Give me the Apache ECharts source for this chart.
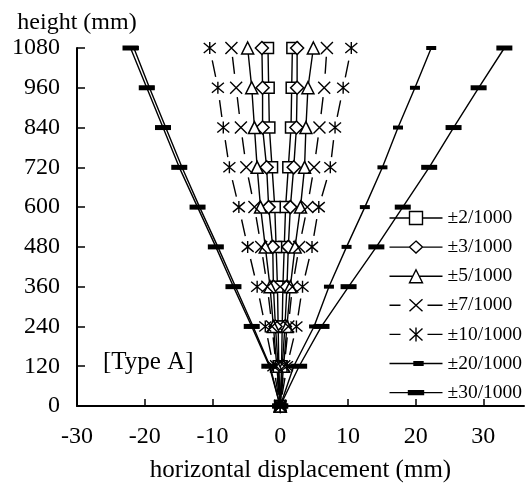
<!DOCTYPE html>
<html>
<head>
<meta charset="utf-8">
<script src="https://cdn.jsdelivr.net/npm/echarts@6/dist/echarts.min.js"></script>
<style>
html,body{margin:0;padding:0;background:#fff;}
#c{width:525px;height:497px;}
</style>
</head>
<body>
<div id="c"></div>
<script>
// ---- data ----
const heights = [0, 120, 240, 360, 480, 600, 720, 840, 960, 1080];
const seriesNames = ['±2/1000', '±3/1000', '±5/1000', '±7/1000', '±10/1000', '±20/1000', '±30/1000'];
const xTicks = [-30, -20, -10, 0, 10, 20, 30];

const d2pos  = [0, 0.2, 0.3, 0.4, 0.6, 0.8, 1.2, 1.6, 1.7, 1.8];
const d2neg  = [0, -0.2, -0.3, -0.4, -0.6, -0.8, -1.2, -1.6, -1.7, -1.8];
const d3pos  = [0, 0.3, 0.7, 1.0, 1.2, 1.5, 2.0, 2.4, 2.5, 2.5];
const d3neg  = [0, -0.3, -0.7, -1.0, -1.1, -1.7, -2.0, -2.6, -2.6, -2.7];
const d5pos  = [0, 0.5, 1.0, 1.5, 2.2, 3.0, 3.6, 3.8, 4.1, 4.9];
const d5neg  = [0, -0.5, -1.0, -1.5, -2.2, -2.9, -3.4, -3.8, -4.2, -4.8];
const d7pos  = [0, 0.6, 1.2, 1.8, 2.8, 4.0, 5.0, 5.8, 6.5, 6.9];
const d7neg  = [0, -0.6, -1.2, -1.9, -2.8, -3.8, -5.0, -5.8, -6.5, -7.2];
const d10pos = [0, 1.0, 2.4, 3.3, 4.7, 5.7, 7.4, 8.1, 9.3, 10.5];
const d10neg = [0, -1.0, -2.2, -3.4, -4.8, -6.1, -7.5, -8.4, -9.2, -10.4];
const d20pos = [0, 2.0, 5.0, 7.2, 9.8, 12.5, 15.1, 17.4, 19.9, 22.3];
const d20neg = [0, -1.5, -4.0, -6.6, -9.2, -11.9, -14.5, -16.9, -19.3, -21.6];
const d30pos = [0, 2.8, 6.1, 10.1, 14.2, 18.1, 22.0, 25.6, 29.3, 33.1];
const d30neg = [0, -1.6, -4.2, -6.9, -9.5, -12.2, -14.9, -17.3, -19.7, -22.1];

// ---- styles ----
const FONT = 'Liberation Serif';
const corners = 'M0,0L0,0M53,14L53,14';
const styles = [
  {pos: d2pos, neg: d2neg, symbol: 'rect', size: 11, fill: '#fff', bw: 1.5, dash: 'solid',
   icon: 'path://' + corners + 'M0,7L20,7M33,7L53,7M20,0.5L33,0.5L33,13.5L20,13.5Z'},
  {pos: d3pos, neg: d3neg, symbol: 'diamond', size: 13, fill: '#fff', bw: 1.5, dash: 'solid',
   icon: 'path://' + corners + 'M0,7L20,7M33,7L53,7M26.5,1L33,7L26.5,13L20,7Z'},
  {pos: d5pos, neg: d5neg, symbol: 'triangle', size: 12, fill: '#fff', bw: 1.5, dash: 'solid',
   icon: 'path://' + corners + 'M0,7L23.3,7M29.7,7L53,7M26.5,0.5L33,13.5L20,13.5Z'},
  {pos: d7pos, neg: d7neg, symbol: 'path://M0,0L10,10M10,0L0,10', size: 12, fill: 'none', bw: 1.4, dash: [17, 23.5],
   icon: 'path://' + corners + 'M0,7L11,7M38,7L53,7M20,1L33,13M33,1L20,13'},
  {pos: d10pos, neg: d10neg, symbol: 'path://M0,0L10,10M10,0L0,10M5,-1L5,11', size: 12, fill: 'none', bw: 1.4, dash: [17, 23.5],
   icon: 'path://' + corners + 'M0,7L11,7M38,7L53,7M20,1L33,13M33,1L20,13M26.5,0L26.5,14'},
  {pos: d20pos, neg: d20neg, symbol: 'rect', size: [10, 4], fill: '#000', bw: 0, dash: 'solid',
   icon: 'path://' + corners + 'M0,7L53,7M24.5,5.25L33.5,5.25L33.5,8.75L24.5,8.75Z'},
  {pos: d30pos, neg: d30neg, symbol: 'rect', size: [16, 5], fill: '#000', bw: 0, dash: 'solid',
   icon: 'path://' + corners + 'M0,7L53,7M19,5L34,5L34,9L19,9Z'}
];

const series = [];
seriesNames.forEach((name, k) => {
  const st = styles[k];
  [st.pos, st.neg].forEach(vals => {
    series.push({
      name: name,
      type: 'line',
      data: heights.map((h, i) => [vals[i], h]),
      symbol: st.symbol,
      symbolSize: st.size,
      showSymbol: true,
      showAllSymbol: true,
      clip: false,
      lineStyle: {color: '#000', width: 1.4, type: st.dash, dashOffset: 29},
      itemStyle: {color: st.fill, borderColor: '#000', borderWidth: st.bw},
      emphasis: {disabled: true},
      z: 2 + k
    });
  });
});

const legendData = seriesNames.map((name, k) => ({
  name: name,
  icon: styles[k].icon,
  itemStyle: {color: styles[k].fill, borderColor: '#000', borderWidth: 1.4}
}));

const chart = echarts.init(document.getElementById('c'), null, {renderer: 'canvas'});
chart.setOption({
  animation: false,
  backgroundColor: '#fff',
  grid: {left: 77, right: 1, top: 48, bottom: 91, containLabel: false, outerBoundsMode: 'none'},
  legend: {
    data: legendData,
    orient: 'vertical',
    left: 387,
    top: 208,
    itemWidth: 53,
    itemHeight: 14,
    itemGap: 9.1,
    padding: 0,
    selectedMode: false,
    textStyle: {fontFamily: FONT, fontSize: 19.5, color: '#000', padding: [0, 0, 0, 0]}
  },
  xAxis: {
    type: 'value',
    min: -30,
    max: 36,
    interval: 10,
    name: 'horizontal displacement (mm)',
    nameLocation: 'middle',
    nameGap: 52,
    nameTextStyle: {fontFamily: FONT, fontSize: 25, color: '#000'},
    axisLine: {show: true, onZero: false, lineStyle: {color: '#000', width: 2}},
    axisTick: {show: true, inside: true, length: 7, customValues: xTicks, lineStyle: {color: '#000', width: 1.5}},
    axisLabel: {fontFamily: FONT, fontSize: 24, color: '#000', margin: 19, customValues: xTicks,
      formatter: v => (v % 10 === 0 ? String(v) : '')},
    splitLine: {show: false}
  },
  yAxis: {
    type: 'value',
    min: 0,
    max: 1080,
    interval: 120,
    name: 'height (mm)',
    nameLocation: 'end',
    nameGap: 13,
    nameTextStyle: {fontFamily: FONT, fontSize: 24, color: '#000'},
    axisLine: {show: true, onZero: false, lineStyle: {color: '#000', width: 2}},
    axisTick: {show: true, inside: true, length: 8, lineStyle: {color: '#000', width: 1.5}},
    axisLabel: {fontFamily: FONT, fontSize: 24, color: '#000', margin: 17, formatter: v => String(v)},
    splitLine: {show: false}
  },
  graphic: [{
    type: 'text',
    left: 103,
    top: 350,
    style: {text: '[Type A]', fontFamily: FONT, fontSize: 25, fill: '#000'}
  }],
  series: series
});
</script>
</body>
</html>
